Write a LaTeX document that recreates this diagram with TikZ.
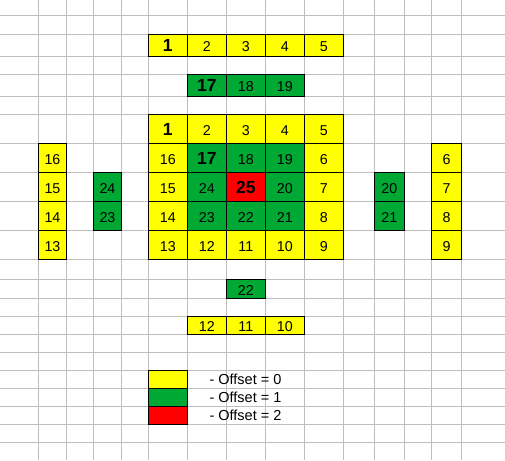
\documentclass[tikz,border=0pt]{standalone}
\usepackage{fontspec}
\setmainfont{Liberation Sans}
\definecolor{yel}{HTML}{FFFF00}
\definecolor{grn}{HTML}{00A933}
\definecolor{rd}{HTML}{FF0000}
\definecolor{gridc}{HTML}{BEBEBE}
\newcommand\mkcell[8][]{\node[cellbox, fill=#7, minimum width=#5pt, minimum height=#6pt, #1] (#2) at (#3,#4) {#8};}
\begin{document}
\begin{tikzpicture}[x=1pt,y=-1pt,
  gridline/.style={draw=gridc, line width=0.8pt},
  cellbox/.style={draw=black, line width=1.1pt, inner sep=0pt, outer sep=0pt, anchor=north west, font=\fontsize{14.3}{14.3}\selectfont, text height=12.8pt, text depth=0pt},
  big/.style={font=\fontsize{17.5}{17.5}\selectfont\bfseries, text height=12.5pt},
  legtext/.style={anchor=west, inner sep=0pt, font=\fontsize{14.5}{14.5}\selectfont}
]
\useasboundingbox (0,0) rectangle (505,460);
\fill[white] (0,0) rectangle (505,460);
% grid
\foreach \x in {38.3,66.7,93.3,121.7,148.3,187.3,226.3,265.3,304.3,343.3,374.3,404.3,431.7,461.3}
  \draw[gridline] (\x,0) -- (\x,460);
\foreach \y in {15.7,34.3,56.7,74.3,96.7,114.3,143.3,172.3,201.3,230.3,259.3,279.7,298.3,316.3,334.3,352.3,370.3,388.3,406.3,424.3,442.3}
  \draw[gridline] (0,\y) -- (505,\y);
% top row
\mkcell[big]{ta}{148.3}{34.3}{39}{22.4}{yel}{1}
\mkcell{tb}{187.3}{34.3}{39}{22.4}{yel}{2}
\mkcell{tc}{226.3}{34.3}{39}{22.4}{yel}{3}
\mkcell{td}{265.3}{34.3}{39}{22.4}{yel}{4}
\mkcell{te}{304.3}{34.3}{39}{22.4}{yel}{5}
% second row
\mkcell[big]{sa}{187.3}{74.3}{39}{22.4}{grn}{17}
\mkcell{sb}{226.3}{74.3}{39}{22.4}{grn}{18}
\mkcell{sc}{265.3}{74.3}{39}{22.4}{grn}{19}
% main grid
\mkcell[big]{m11}{148.3}{114.3}{39}{29}{yel}{1}
\mkcell{m12}{187.3}{114.3}{39}{29}{yel}{2}
\mkcell{m13}{226.3}{114.3}{39}{29}{yel}{3}
\mkcell{m14}{265.3}{114.3}{39}{29}{yel}{4}
\mkcell{m15}{304.3}{114.3}{39}{29}{yel}{5}
\mkcell{m21}{148.3}{143.3}{39}{29}{yel}{16}
\mkcell[big]{m22}{187.3}{143.3}{39}{29}{grn}{17}
\mkcell{m23}{226.3}{143.3}{39}{29}{grn}{18}
\mkcell{m24}{265.3}{143.3}{39}{29}{grn}{19}
\mkcell{m25}{304.3}{143.3}{39}{29}{yel}{6}
\mkcell{m31}{148.3}{172.3}{39}{29}{yel}{15}
\mkcell{m32}{187.3}{172.3}{39}{29}{grn}{24}
\mkcell[big]{m33}{226.3}{172.3}{39}{29}{rd}{25}
\mkcell{m34}{265.3}{172.3}{39}{29}{grn}{20}
\mkcell{m35}{304.3}{172.3}{39}{29}{yel}{7}
\mkcell{m41}{148.3}{201.3}{39}{29}{yel}{14}
\mkcell{m42}{187.3}{201.3}{39}{29}{grn}{23}
\mkcell{m43}{226.3}{201.3}{39}{29}{grn}{22}
\mkcell{m44}{265.3}{201.3}{39}{29}{grn}{21}
\mkcell{m45}{304.3}{201.3}{39}{29}{yel}{8}
\mkcell{m51}{148.3}{230.3}{39}{29}{yel}{13}
\mkcell{m52}{187.3}{230.3}{39}{29}{yel}{12}
\mkcell{m53}{226.3}{230.3}{39}{29}{yel}{11}
\mkcell{m54}{265.3}{230.3}{39}{29}{yel}{10}
\mkcell{m55}{304.3}{230.3}{39}{29}{yel}{9}
% left column
\mkcell{l1}{38.3}{143.3}{28.4}{29}{yel}{16}
\mkcell{l2}{38.3}{172.3}{28.4}{29}{yel}{15}
\mkcell{l3}{38.3}{201.3}{28.4}{29}{yel}{14}
\mkcell{l4}{38.3}{230.3}{28.4}{29}{yel}{13}
\mkcell{lg1}{93.3}{172.3}{28.4}{29}{grn}{24}
\mkcell{lg2}{93.3}{201.3}{28.4}{29}{grn}{23}
% right column
\mkcell{rg1}{374.3}{172.3}{30}{29}{grn}{20}
\mkcell{rg2}{374.3}{201.3}{30}{29}{grn}{21}
\mkcell{r1}{431.7}{143.3}{29.6}{29}{yel}{6}
\mkcell{r2}{431.7}{172.3}{29.6}{29}{yel}{7}
\mkcell{r3}{431.7}{201.3}{29.6}{29}{yel}{8}
\mkcell{r4}{431.7}{230.3}{29.6}{29}{yel}{9}
% below
\mkcell{b22}{226.3}{279.7}{39}{18.6}{grn}{22}
\mkcell{b1}{187.3}{316.3}{39}{18}{yel}{12}
\mkcell{b2}{226.3}{316.3}{39}{18}{yel}{11}
\mkcell{b3}{265.3}{316.3}{39}{18}{yel}{10}
% legend
\mkcell{k0}{148.3}{370.3}{39}{18}{yel}{}
\mkcell{k1}{148.3}{388.3}{39}{18}{grn}{}
\mkcell{k2}{148.3}{406.3}{39}{18}{rd}{}
\node[legtext] (t0) at (209.3,379.8) {- Offset = 0};
\node[legtext] (t1) at (209.3,397.8) {- Offset = 1};
\node[legtext] (t2) at (209.3,415.8) {- Offset = 2};
\end{tikzpicture}
\end{document}
